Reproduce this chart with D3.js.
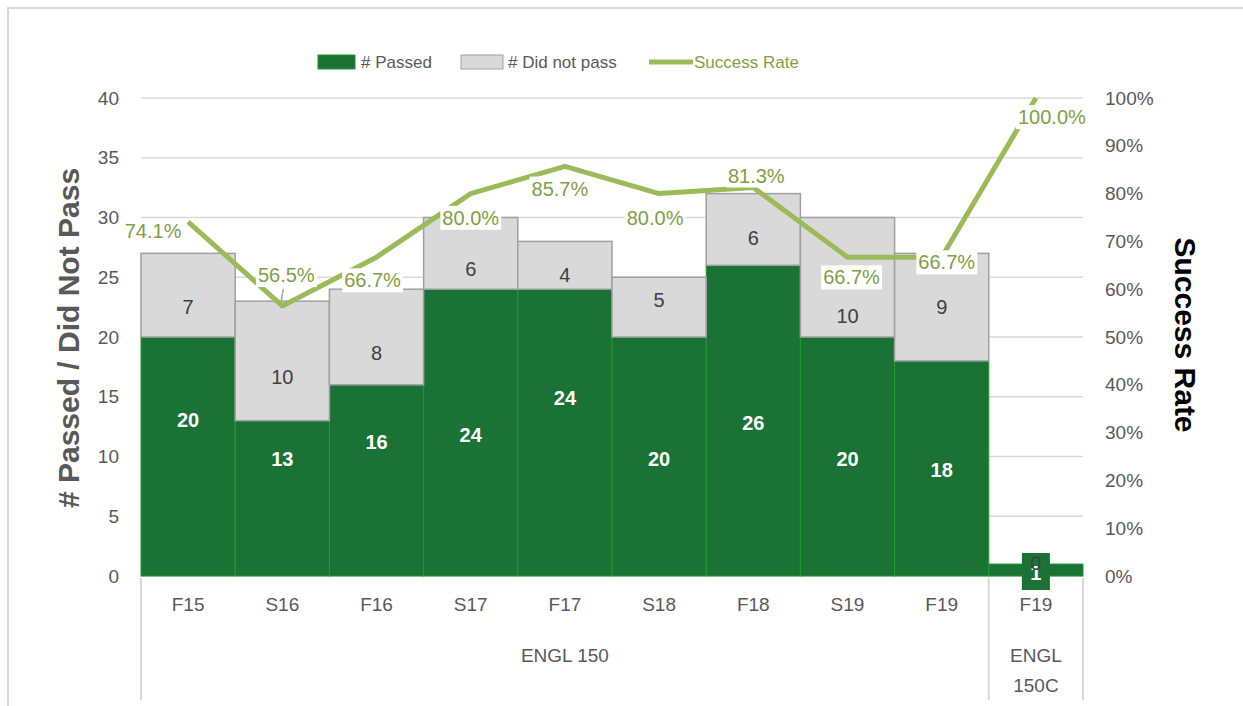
<!DOCTYPE html>
<html>
<head>
<meta charset="utf-8">
<script src="https://cdn.jsdelivr.net/npm/d3@7"></script>
<style>
  body { margin: 0; background: #fff; }
  svg { display: block; font-family: "Liberation Sans", Arial, sans-serif; }
</style>
</head>
<body>
<svg id="chart" width="1243" height="706"></svg>
<script>
// chart data
const terms = ['F15', 'S16', 'F16', 'S17', 'F17', 'S18', 'F18', 'S19', 'F19', 'F19'];
const courses = ['ENGL 150', 'ENGL 150', 'ENGL 150', 'ENGL 150', 'ENGL 150', 'ENGL 150', 'ENGL 150', 'ENGL 150', 'ENGL 150', 'ENGL 150C'];
const passed = [20, 13, 16, 24, 24, 20, 26, 20, 18, 1];
const notPassed = [7, 10, 8, 6, 4, 5, 6, 10, 9, 0];
const successRate = [74.1, 56.5, 66.7, 80.0, 85.7, 80.0, 81.3, 66.7, 66.7, 100.0];
const countTicks = [0, 5, 10, 15, 20, 25, 30, 35, 40];
const rateTicks = [0, 10, 20, 30, 40, 50, 60, 70, 80, 90, 100];

// label placement (hand moved in the original, in axis units / px offsets)
const passedLabelAt = [13.05, 9.8, 11.2, 11.8, 14.9, 9.8, 12.8, 9.8, 8.9, 0.25];
const notPassedLabelAt = [22.5, 16.7, 18.7, 25.7, 25.2, 23.1, 28.3, 21.8, 22.5, 1.1];
const rateLabelDx = [-35, 4, -4, 0, -5, -4, 3, 4, 5, 16];
const rateLabelDy = [9, -31, 23, 24, 22, 24, -12, 20, 5, 19];

const GREEN = '#1a7334';
const GREEN_EDGE = '#1f9a2e';
const GRAY = '#d9d9d9';
const GRAY_EDGE = '#a0a0a0';
const LINE = '#9bbb59';
const LINE_TEXT = '#7f9f45';
const TEXT = '#595959';

const rows = terms.map((t, i) => ({
    key: courses[i] + '|' + t,
    term: t,
    course: courses[i],
    passed: passed[i],
    notPassed: notPassed[i],
    rate: successRate[i],
    i
}));

const svg = d3.select('#chart');
const margin = { left: 141, right: 1083, top: 98, bottom: 576 };

// chart border (cut off at right / bottom like the screenshot)
svg.append('rect')
    .attr('x', 8).attr('y', 8)
    .attr('width', 1260).attr('height', 720)
    .attr('fill', 'none')
    .attr('stroke', '#d9d9d9')
    .attr('stroke-width', 2);

const x = d3.scaleBand()
    .domain(rows.map(d => d.key))
    .range([margin.left, margin.right])
    .padding(0);

const y = d3.scaleLinear().domain([0, 40]).range([margin.bottom, margin.top]);
const yRate = d3.scaleLinear().domain([0, 100]).range([margin.bottom, margin.top]);

// gridlines
svg.append('g')
    .selectAll('line')
    .data(countTicks.filter(v => v > 0))
    .join('line')
    .attr('x1', margin.left).attr('x2', margin.right)
    .attr('y1', d => y(d)).attr('y2', d => y(d))
    .attr('stroke', '#d9d9d9')
    .attr('stroke-width', 1.5);

// axes
const leftAxis = svg.append('g')
    .attr('transform', `translate(${margin.left},0)`)
    .call(d3.axisLeft(y).tickValues(countTicks).tickSize(0).tickPadding(22));
const rightAxis = svg.append('g')
    .attr('transform', `translate(${margin.right},0)`)
    .call(d3.axisRight(yRate).tickValues(rateTicks).tickSize(0).tickPadding(22)
        .tickFormat(d => d + '%'));
[leftAxis, rightAxis].forEach(g => {
    g.select('.domain').remove();
    g.selectAll('text')
        .attr('font-family', '"Liberation Sans", Arial, sans-serif')
        .attr('font-size', 19)
        .attr('fill', TEXT);
});

// category axis: baseline, group separators, labels
svg.append('line')
    .attr('x1', margin.left).attr('x2', margin.right)
    .attr('y1', margin.bottom).attr('y2', margin.bottom)
    .attr('stroke', '#d9d9d9').attr('stroke-width', 1.5);

const groups = d3.groups(rows, d => d.course).map(([course, items]) => ({
    course,
    x0: x(items[0].key),
    x1: x(items[items.length - 1].key) + x.bandwidth()
}));
const sepXs = [groups[0].x0].concat(groups.map(g => g.x1));
svg.append('g')
    .selectAll('line')
    .data(sepXs)
    .join('line')
    .attr('x1', d => d).attr('x2', d => d)
    .attr('y1', margin.bottom + 2).attr('y2', 700)
    .attr('stroke', '#d9d9d9').attr('stroke-width', 2);

const xAxis = svg.append('g')
    .attr('transform', `translate(0,${margin.bottom})`)
    .call(d3.axisBottom(x).tickSize(0).tickPadding(22).tickFormat(k => k.split('|')[1]));
xAxis.select('.domain').remove();
xAxis.selectAll('text')
    .attr('font-family', '"Liberation Sans", Arial, sans-serif')
    .attr('font-size', 19)
    .attr('fill', TEXT);

const groupText = svg.append('g')
    .selectAll('text')
    .data(groups)
    .join('text')
    .attr('x', d => (d.x0 + d.x1) / 2)
    .attr('y', 662)
    .attr('text-anchor', 'middle')
    .attr('font-size', 19)
    .attr('fill', TEXT);
groupText.each(function (d) {
    const g = d3.select(this);
    const w = d.x1 - d.x0;
    // narrow group wraps onto two lines
    const lines = w < 120 ? d.course.split(' ') : [d.course];
    lines.forEach((ln, j) => {
        g.append('tspan')
            .attr('x', (d.x0 + d.x1) / 2)
            .attr('dy', j === 0 ? 0 : 30)
            .text(ln);
    });
});

// stacked bars
const bars = svg.append('g');
bars.selectAll('rect.pass')
    .data(rows)
    .join('rect')
    .attr('class', 'pass')
    .attr('x', d => x(d.key))
    .attr('width', x.bandwidth())
    .attr('y', d => y(d.passed))
    .attr('height', d => y(0) - y(d.passed))
    .attr('fill', GREEN)
    .attr('stroke', GREEN_EDGE)
    .attr('stroke-width', 1);
bars.selectAll('rect.fail')
    .data(rows.filter(d => d.notPassed > 0))
    .join('rect')
    .attr('class', 'fail')
    .attr('x', d => x(d.key))
    .attr('width', x.bandwidth())
    .attr('y', d => y(d.passed + d.notPassed))
    .attr('height', d => y(d.passed) - y(d.passed + d.notPassed))
    .attr('fill', GRAY)
    .attr('stroke', GRAY_EDGE)
    .attr('stroke-width', 1.5);

// success rate line
const cx = d => x(d.key) + x.bandwidth() / 2;
svg.append('path')
    .datum(rows)
    .attr('fill', 'none')
    .attr('stroke', LINE)
    .attr('stroke-width', 5)
    .attr('stroke-linejoin', 'round')
    .attr('d', d3.line().x(cx).y(d => yRate(d.rate)));

// bar value labels
const barLabels = svg.append('g').attr('font-size', 20).attr('text-anchor', 'middle');
// green label box for the tiny last bar
rows.filter(d => d.passed < 3).forEach(d => {
    barLabels.append('rect')
        .attr('x', cx(d) - 14).attr('y', y(passedLabelAt[d.i]) - 20)
        .attr('width', 28).attr('height', 37)
        .attr('fill', GREEN);
});
barLabels.selectAll('text.pv')
    .data(rows)
    .join('text')
    .attr('class', 'pv')
    .attr('x', cx)
    .attr('y', d => y(passedLabelAt[d.i]))
    .attr('dy', '0.36em')
    .attr('fill', '#fff')
    .attr('font-weight', 'bold')
    .text(d => d.passed);
barLabels.selectAll('text.fv')
    .data(rows)
    .join('text')
    .attr('class', 'fv')
    .attr('x', cx)
    .attr('y', d => y(notPassedLabelAt[d.i]))
    .attr('dy', '0.36em')
    .attr('fill', '#404040')
    .text(d => d.notPassed);

// leader line for the moved 56.5% label
const s16 = rows[1];
svg.append('line')
    .attr('x1', cx(s16) + 1).attr('y1', yRate(s16.rate) - 17)
    .attr('x2', cx(s16) - 1).attr('y2', yRate(s16.rate) - 5)
    .attr('stroke', '#a6a6a6').attr('stroke-width', 1.5);

// rate labels with white boxes
const rateLabels = svg.append('g')
    .selectAll('g')
    .data(rows)
    .join('g')
    .attr('transform', d => `translate(${cx(d) + rateLabelDx[d.i]},${yRate(d.rate) + rateLabelDy[d.i]})`);
rateLabels.append('text')
    .attr('text-anchor', 'middle')
    .attr('dy', '0.36em')
    .attr('font-size', 20)
    .attr('fill', LINE_TEXT)
    .text(d => d.rate.toFixed(1) + '%');
rateLabels.each(function () {
    const g = d3.select(this);
    const bb = g.select('text').node().getBBox();
    g.insert('rect', 'text')
        .attr('x', bb.x - 2).attr('y', bb.y - 1)
        .attr('width', bb.width + 4).attr('height', bb.height + 2)
        .attr('fill', '#fff');
});

// axis titles
svg.append('text')
    .attr('transform', 'translate(79,338) rotate(-90)')
    .attr('text-anchor', 'middle')
    .attr('font-size', 30)
    .attr('font-weight', 'bold')
    .attr('fill', TEXT)
    .text('# Passed / Did Not Pass');
svg.append('text')
    .attr('transform', 'translate(1175,335) rotate(90)')
    .attr('text-anchor', 'middle')
    .attr('font-size', 30)
    .attr('font-weight', 'bold')
    .attr('fill', '#000')
    .text('Success Rate');

// legend
const legend = svg.append('g').attr('font-size', 17);
legend.append('rect').attr('x', 318).attr('y', 55).attr('width', 37).attr('height', 14)
    .attr('fill', GREEN).attr('stroke', GREEN_EDGE);
legend.append('text').attr('x', 361).attr('y', 68).attr('fill', TEXT).text('# Passed');
legend.append('rect').attr('x', 461).attr('y', 55).attr('width', 42).attr('height', 14)
    .attr('fill', GRAY).attr('stroke', GRAY_EDGE);
legend.append('text').attr('x', 508).attr('y', 68).attr('fill', TEXT).text('# Did not pass');
legend.append('line').attr('x1', 649).attr('x2', 693).attr('y1', 62).attr('y2', 62)
    .attr('stroke', LINE).attr('stroke-width', 5);
legend.append('text').attr('x', 694).attr('y', 68).attr('fill', LINE_TEXT).text('Success Rate');
</script>
</body>
</html>
